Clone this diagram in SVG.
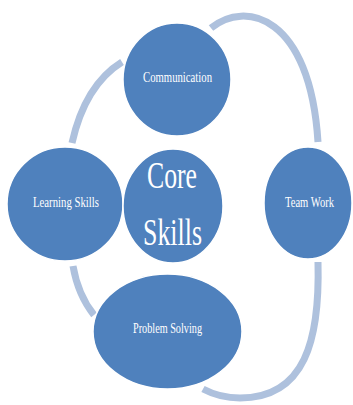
<svg xmlns="http://www.w3.org/2000/svg" width="353" height="405" viewBox="0 0 353 405">
<style>
.arc{fill:none;stroke:#AEC1DD;stroke-width:7;stroke-linecap:butt}
.node{fill:#4F81BD;stroke:#FFFFFF;stroke-width:1.5}
.lbl{font-family:"Liberation Serif","DejaVu Serif",serif;fill:#FFFFFF;font-size:14px}
.big{font-family:"Liberation Serif","DejaVu Serif",serif;fill:#FFFFFF;font-size:38px}
</style>
<rect width="353" height="405" fill="#FFFFFF"/>
<g id="connectors">
<path class="arc" d="M211,28 C245,0 310,15 318,142"/>
<path class="arc" d="M122,62 Q85,85 72,143"/>
<path class="arc" d="M73,266 Q78,295 94,315"/>
<path class="arc" d="M318,262 C320,340 305,398 240,398 Q220,398 203,389"/>
</g>
<g id="communication">
<ellipse class="node" cx="177" cy="79.5" rx="54" ry="56.5"/>
<text class="lbl" x="143" y="82" textLength="69" lengthAdjust="spacingAndGlyphs">Communication</text>
</g>
<g id="learning-skills">
<ellipse class="node" cx="65" cy="204" rx="58" ry="57"/>
<text class="lbl" x="33" y="207" textLength="66" lengthAdjust="spacingAndGlyphs">Learning Skills</text>
</g>
<g id="core-skills">
<ellipse class="node" cx="173" cy="206" rx="50" ry="57"/>
<text class="big" x="147" y="188" textLength="50" lengthAdjust="spacingAndGlyphs">Core</text>
<text class="big" x="143" y="245" textLength="59" lengthAdjust="spacingAndGlyphs">Skills</text>
</g>
<g id="team-work">
<ellipse class="node" cx="308" cy="203" rx="44" ry="56"/>
<text class="lbl" x="285" y="207" textLength="49" lengthAdjust="spacingAndGlyphs">Team Work</text>
</g>
<g id="problem-solving">
<ellipse class="node" cx="167.5" cy="331.5" rx="74.5" ry="57.5"/>
<text class="lbl" x="133" y="333" textLength="69" lengthAdjust="spacingAndGlyphs">Problem Solving</text>
</g>
</svg>
